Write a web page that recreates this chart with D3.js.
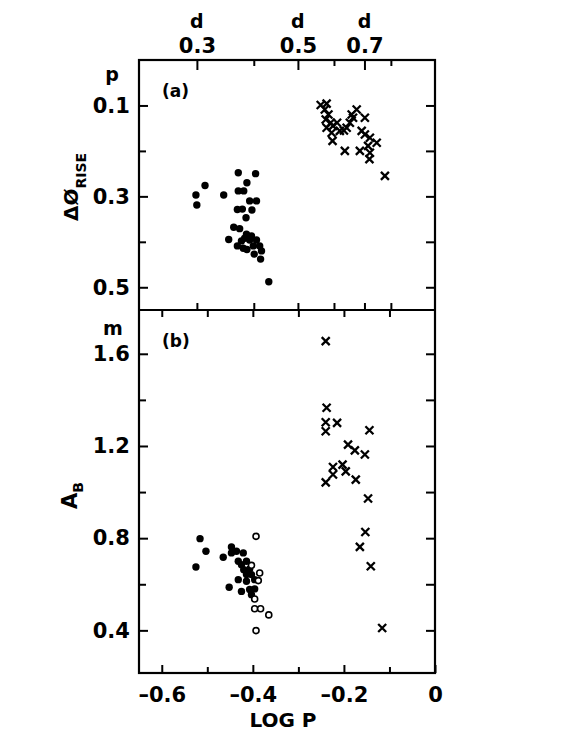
<!DOCTYPE html>
<html><head><meta charset="utf-8">
<script src="https://cdn.jsdelivr.net/npm/d3@7"></script>
<style>body{margin:0;background:#fff}svg text{font-family:"DejaVu Sans",sans-serif;font-weight:bold;fill:#000}</style>
</head><body><svg id="c" width="570" height="741"></svg>
<script>
// ---- data ----
const xTicks = [-0.6, -0.4, -0.2, 0];
const xMinor = [-0.5, -0.3, -0.1];
const periodMajor = [0.3, 0.5, 0.7];
const periodMinor = [0.4, 0.6, 0.8];
const riseTicks = [0.1, 0.3, 0.5];
const riseMinor = [0.2, 0.4];
const ampTicks = [0.4, 0.8, 1.2, 1.6];
const ampMinor = [0.6, 1.0, 1.4];

// panel (a): [logP, dPhiRise]
const riseDots = [[-0.432,0.248],[-0.394,0.250],[-0.413,0.270],[-0.505,0.276],[-0.525,0.297],[-0.464,0.297],
 [-0.432,0.288],[-0.420,0.288],[-0.523,0.319],[-0.407,0.310],[-0.392,0.310],[-0.434,0.329],[-0.423,0.328],
 [-0.402,0.330],[-0.415,0.347],[-0.442,0.368],[-0.429,0.371],[-0.453,0.395],[-0.414,0.383],[-0.418,0.392],
 [-0.407,0.396],[-0.392,0.396],[-0.434,0.409],[-0.421,0.414],[-0.413,0.417],[-0.399,0.409],[-0.385,0.409],
 [-0.381,0.420],[-0.397,0.427],[-0.383,0.438],[-0.365,0.488],[-0.425,0.398],[-0.403,0.387]];
const riseCross = [[-0.251,0.099],[-0.238,0.096],[-0.242,0.109],[-0.234,0.120],[-0.240,0.131],[-0.229,0.138],
 [-0.238,0.149],[-0.224,0.145],[-0.215,0.138],[-0.227,0.160],[-0.225,0.178],[-0.200,0.155],[-0.194,0.149],
 [-0.187,0.138],[-0.183,0.120],[-0.172,0.109],[-0.180,0.127],[-0.154,0.127],[-0.161,0.156],[-0.154,0.164],
 [-0.143,0.171],[-0.128,0.182],[-0.147,0.189],[-0.165,0.200],[-0.143,0.204],[-0.144,0.218],[-0.198,0.200],
 [-0.110,0.255],[-0.209,0.156]];

// panel (b): [logP, A_B]
const ampDots = [[-0.516,0.798],[-0.503,0.743],[-0.525,0.675],[-0.465,0.717],[-0.447,0.762],[-0.447,0.736],
 [-0.436,0.743],[-0.421,0.736],[-0.432,0.700],[-0.425,0.685],[-0.414,0.700],[-0.420,0.663],[-0.407,0.666],
 [-0.414,0.642],[-0.403,0.642],[-0.432,0.620],[-0.414,0.613],[-0.452,0.587],[-0.425,0.569],[-0.407,0.577],
 [-0.396,0.580],[-0.403,0.555],[-0.396,0.620]];
const ampOpen = [[-0.393,0.808],[-0.403,0.682],[-0.385,0.649],[-0.388,0.616],[-0.396,0.536],[-0.396,0.494],
 [-0.383,0.494],[-0.365,0.467],[-0.393,0.399]];
const ampCross = [[-0.240,1.655],[-0.238,1.366],[-0.240,1.303],[-0.240,1.264],[-0.215,1.300],[-0.144,1.268],
 [-0.191,1.206],[-0.176,1.181],[-0.154,1.163],[-0.224,1.109],[-0.203,1.119],[-0.196,1.090],[-0.224,1.076],
 [-0.240,1.042],[-0.174,1.054],[-0.147,0.972],[-0.153,0.827],[-0.165,0.762],[-0.141,0.678],[-0.116,0.410]];

// ---- layout ----
const L = 139, R = 435, T = 60, M = 310, B = 673;
const svg = d3.select("#c");
const x = d3.scaleLinear().domain([-0.65, 0]).range([L, R]);
const xp = d3.scaleLog().domain([Math.pow(10, -0.65), 1]).range([L, R]);
const ya = d3.scaleLinear().domain([0, 0.55]).range([T, M]);
const yb = d3.scaleLinear().domain([0.215, 1.79]).range([B, M]);
const fmtX = d => d === 0 ? "0" : "\u2013" + d3.format(".1f")(Math.abs(d));

function ax(gen, tr, vals, size, fmt) {
  const g = svg.append("g").attr("transform", tr)
    .call(gen.tickValues(vals).tickSizeInner(-size).tickSizeOuter(0).tickPadding(7)
      .tickFormat(fmt || (() => "")));
  g.select(".domain").remove();
  g.selectAll("line").attr("stroke", "#000").attr("stroke-width", 2);
  g.selectAll("text").attr("font-size", 21).attr("font-family", "DejaVu Sans").attr("font-weight", "bold");
  return g;
}
// top period axis of panel (a)
ax(d3.axisTop(xp), `translate(0,${T})`, periodMajor, 10, d3.format(".1f"));
ax(d3.axisTop(xp), `translate(0,${T})`, periodMinor, 6);
svg.selectAll(".dlab").data(periodMajor).join("text").attr("class", "dlab")
  .attr("x", d => xp(d)).attr("y", 28).attr("text-anchor", "middle").attr("font-size", 19).text("d");
// bottom of panel (a): period ticks pointing up
ax(d3.axisBottom(xp), `translate(0,${M})`, periodMajor.concat(periodMinor), 7);
// top of panel (b): logP ticks pointing down
ax(d3.axisTop(x), `translate(0,${M})`, xTicks.concat(xMinor).filter(d => d < 0), 7);
// bottom axis
const gB = ax(d3.axisBottom(x), `translate(0,${B})`, xTicks, 8, fmtX);
gB.selectAll("text").attr("dy", "1.05em");
ax(d3.axisBottom(x), `translate(0,${B})`, xMinor, 6);
// left axes
ax(d3.axisLeft(ya), `translate(${L},0)`, riseTicks, 9, d3.format(".1f")).selectAll("text").attr("dx", "-0.1em");
ax(d3.axisLeft(ya), `translate(${L},0)`, riseMinor, 7);
ax(d3.axisLeft(yb), `translate(${L},0)`, ampTicks, 9, d3.format(".1f")).selectAll("text").attr("dx", "-0.1em");
ax(d3.axisLeft(yb), `translate(${L},0)`, ampMinor, 7);
// right axes
ax(d3.axisRight(ya), `translate(${R},0)`, riseTicks.concat(riseMinor), 9);
ax(d3.axisRight(yb), `translate(${R},0)`, ampTicks.concat(ampMinor), 9);

// frames
svg.append("rect").attr("x", L).attr("y", T).attr("width", R - L).attr("height", B - T)
  .attr("fill", "none").attr("stroke", "#000").attr("stroke-width", 2.2);
svg.append("line").attr("x1", L).attr("x2", R).attr("y1", M).attr("y2", M)
  .attr("stroke", "#000").attr("stroke-width", 2.2);

// marks
function dots(data, ys, open) {
  svg.append("g").selectAll("circle").data(data).join("circle")
    .attr("cx", d => x(d[0])).attr("cy", d => ys(d[1])).attr("r", open ? 3 : 3.7)
    .attr("fill", open ? "#fff" : "#000").attr("stroke", "#000").attr("stroke-width", open ? 1.6 : 0);
}
function crosses(data, ys) {
  const s = 4;
  svg.append("g").selectAll("path").data(data).join("path")
    .attr("d", d => { const cx = x(d[0]), cy = ys(d[1]);
      return `M${cx - s},${cy - s}L${cx + s},${cy + s}M${cx - s},${cy + s}L${cx + s},${cy - s}`; })
    .attr("stroke", "#000").attr("stroke-width", 2.3).attr("fill", "none");
}
dots(riseDots, ya, false);
crosses(riseCross, ya);
dots(ampDots, yb, false);
dots(ampOpen, yb, true);
crosses(ampCross, yb);

// labels
svg.append("text").attr("x", 162).attr("y", 97).attr("font-size", 17).text("(a)");
svg.append("text").attr("x", 162).attr("y", 347).attr("font-size", 17).text("(b)");
svg.append("text").attr("x", 112).attr("y", 81).attr("text-anchor", "middle").attr("font-size", 19).text("p");
svg.append("text").attr("x", 113).attr("y", 335).attr("text-anchor", "middle").attr("font-size", 19).text("m");
svg.append("text").attr("x", 283).attr("y", 727).attr("text-anchor", "middle").attr("font-size", 20).text("LOG P");

const t1 = svg.append("text").attr("transform", "rotate(-90)").attr("x", -221).attr("y", 78).attr("font-size", 20);
t1.append("tspan").text("\u0394\u00D8");
t1.append("tspan").attr("font-size", 14).attr("dy", 8).text("RISE");
const t2 = svg.append("text").attr("transform", "rotate(-90)").attr("x", -509).attr("y", 77).attr("font-size", 21);
t2.append("tspan").text("A");
t2.append("tspan").attr("font-size", 14).attr("dy", 6).text("B");
</script></body></html>
